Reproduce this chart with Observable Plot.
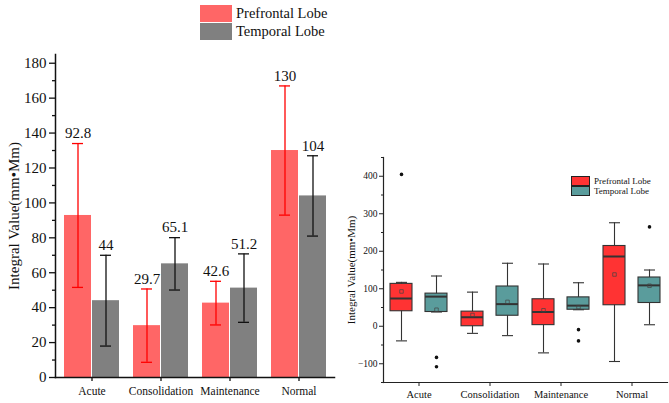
<!DOCTYPE html>
<html><head><meta charset="utf-8">
<script src="https://cdn.jsdelivr.net/npm/d3@7"></script>
<script src="https://cdn.jsdelivr.net/npm/@observablehq/plot@0.6"></script>
<style>
body{margin:0;background:#fff;font-family:"Liberation Serif","Times New Roman",Times,"DejaVu Serif",serif;}
#wrap{position:relative;width:669px;height:403px;overflow:hidden;}
.abs{position:absolute;}
.lg{position:absolute;font-family:"Liberation Serif","Times New Roman",Times,"DejaVu Serif",serif;color:#111;white-space:nowrap;}
svg text{font-family:"Liberation Serif","Times New Roman",Times,"DejaVu Serif",serif;}
</style></head>
<body><div id="wrap"></div>
<script>
// ---- data ----
const categories = ["Acute","Consolidation","Maintenance","Normal"];
const series = ["Prefrontal Lobe","Temporal Lobe"];
// bar chart (mean ± sd)
const prefMean = [92.8, 29.7, 42.6, 130];
const prefSD   = [41.2, 21.0, 12.5, 37.0];
const tempMean = [44, 65.1, 51.2, 104];
const tempSD   = [26.0, 15.0, 19.6, 23.0];
const barTicks = [0,20,40,60,80,100,120,140,160,180];
const barMinor = [10,30,50,70,90,110,130,150,170];
// box plot
const prefBox = {
  lo:[-39,-19,-71,-94], q1:[40,0,3,56], med:[74,24,38,186], q3:[113,39,72,214], hi:[117,91,166,276], mean:[92.8,30,42.6,138]
};
const tempBox = {
  lo:[38,-25,44,4], q1:[38,28,44,62], med:[79,59,55,109], q3:[87,106,77,130], hi:[134,168,116,150], mean:[44,65,51,108]
};
const prefOutliers = [{cat:"Acute", v:405}];
const tempOutliers = [{cat:"Acute", v:-83},{cat:"Acute", v:-108},{cat:"Maintenance", v:-9},{cat:"Maintenance", v:-39},{cat:"Normal", v:265}];
const boxTicks = [-100,0,100,200,300,400];
const boxMinor = [-150,-50,50,150,250,350,450];

const font = "'Liberation Serif', 'Times New Roman', Times, 'DejaVu Serif', serif";
const wrap = document.getElementById("wrap");

// ---- left: bar chart ----
const prefRows = categories.map((c,i)=>({cat:c, v:prefMean[i], lo:prefMean[i]-prefSD[i], hi:prefMean[i]+prefSD[i], label:String(prefMean[i])}));
const tempRows = categories.map((c,i)=>({cat:c, v:tempMean[i], lo:tempMean[i]-tempSD[i], hi:tempMean[i]+tempSD[i], label:String(tempMean[i])}));
const PC = "#ff6666", TC = "#808080";
const left = Plot.plot({
  width: 340, height: 403,
  marginLeft: 55, marginRight: 6, marginTop: 54, marginBottom: 26,
  style: {fontFamily: font, background: "transparent", color:"#111"},
  x: {domain: categories, padding: 0, label: null},
  y: {domain: [0,185], label: null},
  marks: [
    Plot.barY(prefRows, {x:"cat", y:"v", fill:PC, insetLeft:7, insetRight:35}),
    Plot.barY(tempRows, {x:"cat", y:"v", fill:TC, insetLeft:35, insetRight:7}),
    Plot.ruleX(prefRows, {x:"cat", y1:"lo", y2:"hi", dx:-14, stroke:"#ff0000", strokeWidth:1.3}),
    Plot.tickY(prefRows, {x:"cat", y:"lo", stroke:"#ff0000", strokeWidth:1.3, insetLeft:15, insetRight:43}),
    Plot.tickY(prefRows, {x:"cat", y:"hi", stroke:"#ff0000", strokeWidth:1.3, insetLeft:15, insetRight:43}),
    Plot.ruleX(tempRows, {x:"cat", y1:"lo", y2:"hi", dx:14, stroke:"#111", strokeWidth:1.3}),
    Plot.tickY(tempRows, {x:"cat", y:"lo", stroke:"#111", strokeWidth:1.3, insetLeft:43, insetRight:15}),
    Plot.tickY(tempRows, {x:"cat", y:"hi", stroke:"#111", strokeWidth:1.3, insetLeft:43, insetRight:15}),
    Plot.text(prefRows, {x:"cat", y:"hi", text:"label", dx:-14, dy:-10, fontSize:15, fill:"#111"}),
    Plot.text(tempRows, {x:"cat", y:"hi", text:"label", dx:14, dy:-10, fontSize:15, fill:"#111"}),
    Plot.frame({anchor:"left", stroke:"#111", strokeWidth:1.5}),
    Plot.frame({anchor:"bottom", stroke:"#111", strokeWidth:1.5}),
    Plot.axisY({ticks: barTicks, tickSize:6, tickPadding:3, fontSize:15, label:"Integral Value(mm•Mm)", labelAnchor:"center", labelOffset:47, labelArrow:"none", stroke:"#111", strokeWidth:1.3}),
    Plot.axisY({ticks: barMinor, tickSize:3, text:null, label:null, stroke:"#111", strokeWidth:1.3}),
    Plot.axisX({tickSize:4, tickPadding:5, fontSize:11.5, label:null, stroke:"#111", strokeWidth:1.3})
  ]
});
left.classList.add("abs");
left.style.left = "0px"; left.style.top = "0px";
wrap.appendChild(left);

// ---- right: box plot ----
const mk = (b)=>categories.map((c,i)=>({cat:c, lo:b.lo[i], q1:b.q1[i], med:b.med[i], q3:b.q3[i], hi:b.hi[i], mean:b.mean[i]}));
const pB = mk(prefBox), tB = mk(tempBox);
const BP = "#ff3333", BT = "#5a9c9c", SK = "#333";
const right = Plot.plot({
  width: 329, height: 403,
  marginLeft: 43, marginRight: 2, marginTop: 157, marginBottom: 21,
  style: {fontFamily: font, background: "transparent", color:"#111"},
  x: {domain: categories, padding: 0, label: null},
  y: {domain: [-150,450], label: null},
  marks: [
    // whiskers
    Plot.ruleX(pB, {x:"cat", y1:"lo", y2:"hi", dx:-17.5, stroke:SK, strokeWidth:1.1}),
    Plot.ruleX(tB, {x:"cat", y1:"lo", y2:"hi", dx:17.5, stroke:SK, strokeWidth:1.1}),
    Plot.tickY(pB, {x:"cat", y:"lo", stroke:SK, strokeWidth:1.1, insetLeft:13, insetRight:47}),
    Plot.tickY(pB, {x:"cat", y:"hi", stroke:SK, strokeWidth:1.1, insetLeft:13, insetRight:47}),
    Plot.tickY(tB, {x:"cat", y:"lo", stroke:SK, strokeWidth:1.1, insetLeft:48, insetRight:12}),
    Plot.tickY(tB, {x:"cat", y:"hi", stroke:SK, strokeWidth:1.1, insetLeft:48, insetRight:12}),
    // boxes
    Plot.rectY(pB, {x:"cat", y1:"q1", y2:"q3", fill:BP, stroke:SK, strokeWidth:1.1, insetLeft:7, insetRight:42}),
    Plot.rectY(tB, {x:"cat", y1:"q1", y2:"q3", fill:BT, stroke:SK, strokeWidth:1.1, insetLeft:42, insetRight:7}),
    Plot.tickY(pB, {x:"cat", y:"med", stroke:SK, strokeWidth:2, insetLeft:7, insetRight:42}),
    Plot.tickY(tB, {x:"cat", y:"med", stroke:SK, strokeWidth:2, insetLeft:42, insetRight:7}),
    Plot.dot(pB, {x:"cat", y:"mean", dx:-17.5, symbol:"square", r:2, stroke:"#444", strokeWidth:0.7, fill:"none"}),
    Plot.dot(tB, {x:"cat", y:"mean", dx:17.5, symbol:"square", r:2, stroke:"#444", strokeWidth:0.7, fill:"none"}),
    Plot.dot(prefOutliers, {x:"cat", y:"v", dx:-17.5, r:1.8, fill:"#111"}),
    Plot.dot(tempOutliers, {x:"cat", y:"v", dx:17.5, r:1.8, fill:"#111"}),
    Plot.frame({anchor:"left", stroke:"#222", strokeWidth:1.2}),
    Plot.frame({anchor:"bottom", stroke:"#222", strokeWidth:1.2}),
    Plot.axisY({ticks: boxTicks, tickSize:4, tickPadding:2, fontSize:9.5, text:null, label:null, stroke:"#222"}),
    Plot.axisY({ticks: boxTicks, tickSize:4, tickPadding:2, fontSize:9.5, label:null, stroke:"none"}),
    Plot.axisY({ticks: [], fontSize:11, label:"Integral Value(mm•Mm)", labelAnchor:"center", labelOffset:36, labelArrow:"none"}),
    Plot.axisY({ticks: boxMinor, tickSize:2, text:null, label:null, stroke:"#222"}),
    Plot.axisX({tickSize:4, tickPadding:4, fontSize:10.5, label:null, stroke:"#222"})
  ]
});
right.classList.add("abs");
right.style.left = "340px"; right.style.top = "0px";
wrap.appendChild(right);

// ---- legends (HTML) ----
function legend(x, y, w, h, gap, fs, colors, border){
  series.forEach((s,i)=>{
    const sw = document.createElement("div");
    sw.className = "abs";
    Object.assign(sw.style, {left:x+"px", top:(y+i*(h+gap))+"px", width:w+"px", height:h+"px", background:colors[i], boxSizing:"border-box", border: border ? "1px solid #222" : "none"});
    wrap.appendChild(sw);
    const t = document.createElement("div");
    t.className = "lg";
    t.textContent = s;
    Object.assign(t.style, {left:(x+w+4)+"px", top:(y+i*(h+gap)+h/2-fs*0.6)+"px", fontSize:fs+"px", lineHeight:(fs*1.2)+"px"});
    wrap.appendChild(t);
  });
}
legend(200, 5, 32, 17, 1, 14.5, [PC, TC], false);
legend(571, 176, 19, 10, 0, 9, [BP, BT], true);
</script>
</body></html>
